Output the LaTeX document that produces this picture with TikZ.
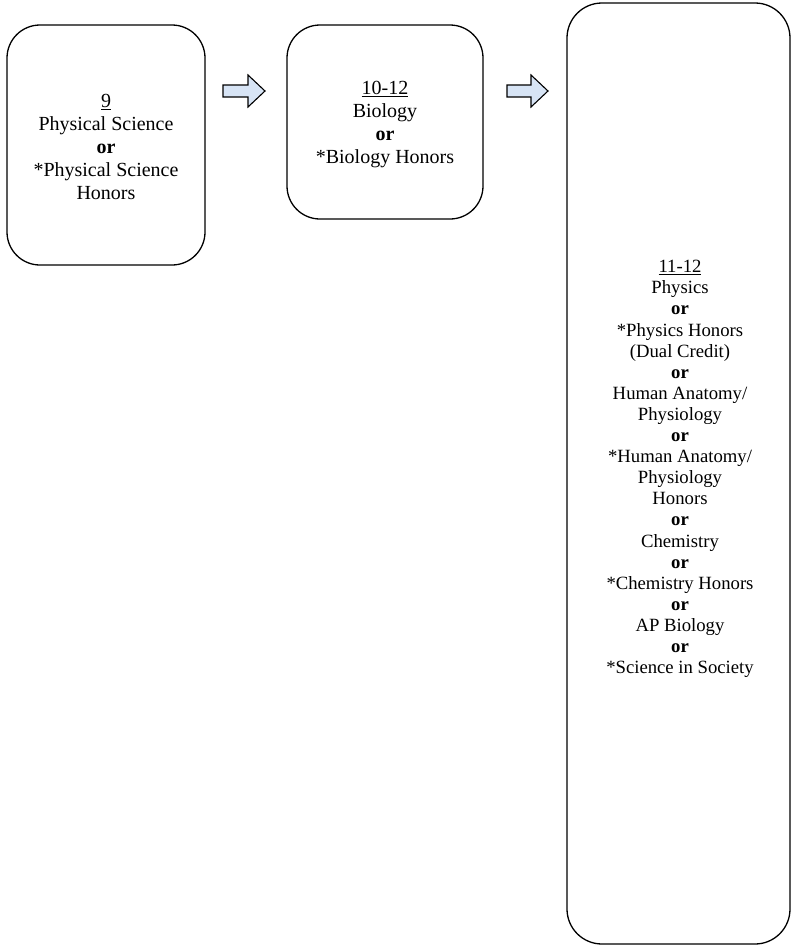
\documentclass[tikz,border=0pt]{standalone}
\usepackage{fontspec}
\setmainfont{Liberation Serif}
\begin{document}
\begin{tikzpicture}[x=1pt,y=-1pt,
  coursebox/.style={draw=black, line width=1.3pt, rounded corners=33pt},
  coursetext/.style={align=center, inner sep=0pt,
    font=\fontsize{20}{23}\selectfont},
  longtext/.style={align=center, inner sep=0pt,
    font=\fontsize{18.7}{21.1}\selectfont},
  blockarrow/.style={draw=black, line width=1.1pt, fill=arrowfill, line join=miter}]
\definecolor{arrowfill}{HTML}{D7E4F5}
\useasboundingbox (0,0) rectangle (792,945);

% course boxes
\draw[coursebox] (7,25) rectangle (205,265);
\node (b1) at (106,145) {};
\draw[coursebox] (287,25) rectangle (483,219);
\node (b2) at (385,122) {};
\draw[coursebox, rounded corners=35pt] (567,3) rectangle (790,944);
\node (b3) at (678,473) {};

% texts
\node[coursetext] (t1) at (106,147) {\underline{9}\\Physical Science\\\textbf{or}\\*Physical Science\\Honors};
\node[coursetext] (t2) at (385,125) {\underline{10-12}\\Biology\\\textbf{or}\\*Biology Honors};
\node[longtext] (t3) at (680,469) {\underline{11-12}\\Physics\\\textbf{or}\\*Physics Honors\\(Dual Credit)\\\textbf{or}\\Human Anatomy/\\Physiology\\\textbf{or}\\*Human Anatomy/\\Physiology\\Honors\\\textbf{or}\\Chemistry\\\textbf{or}\\*Chemistry Honors\\\textbf{or}\\AP Biology\\\textbf{or}\\*Science in Society};

% block arrows between the boxes
\draw[blockarrow] (223,85) -- (248,85) -- (248,75) -- (265,91) -- (248,107) -- (248,97) -- (223,97) -- cycle;
\draw[blockarrow] (507,85) -- (531,85) -- (531,75) -- (548,91) -- (531,107) -- (531,97) -- (507,97) -- cycle;
\end{tikzpicture}
\end{document}
